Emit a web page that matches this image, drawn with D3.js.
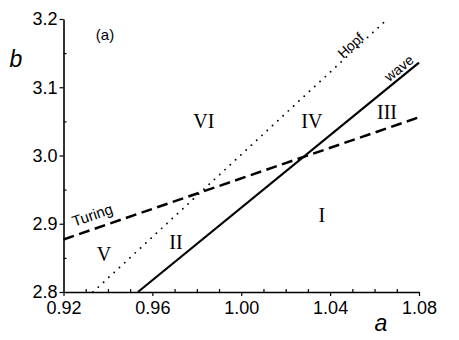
<!DOCTYPE html>
<html><head><meta charset="utf-8">
<script src="https://cdn.jsdelivr.net/npm/d3@7"></script>
<style>body{margin:0;background:#fff}svg{display:block}</style>
</head><body>
<svg id="c" width="459" height="340"></svg>
<script>
const xTicks = [0.92, 0.96, 1.00, 1.04, 1.08];
const yTicks = [2.8, 2.9, 3.0, 3.1, 3.2];
const xMinor = [0.93,0.94,0.95,0.97,0.98,0.99,1.01,1.02,1.03,1.05,1.06,1.07];
const yMinor = [2.85, 2.95, 3.05, 3.15];
const hopfA = [0.9333, 1.0658], hopfB = [2.8, 3.2];
const waveA = [0.9535, 1.08],   waveB = [2.8, 3.136];
const turingA = [0.92, 1.08],   turingB = [2.877, 3.056];
const regions = ["VI","IV","III","II","V","I"];
const regionA = [0.9832, 1.0318, 1.0656, 0.9706, 0.9382, 1.0363];
const regionB = [3.040, 3.040, 3.053, 2.863, 2.845, 2.902];

const svg = d3.select("#c");
const x = d3.scaleLinear().domain([0.92,1.08]).range([63.5,419]);
const y = d3.scaleLinear().domain([2.8,3.2]).range([292,19]);
const font = "Arial, 'Liberation Sans', sans-serif";

// minor ticks
svg.append("g").attr("transform","translate(0,292)")
  .call(d3.axisBottom(x).tickValues(xMinor).tickSize(-3).tickFormat(""))
  .call(g=>g.select(".domain").remove());
svg.append("g").attr("transform","translate(63.5,0)")
  .call(d3.axisLeft(y).tickValues(yMinor).tickSize(-3).tickFormat(""))
  .call(g=>g.select(".domain").remove());

const xa = svg.append("g").attr("transform","translate(0,292)")
  .call(d3.axisBottom(x).tickValues(xTicks).tickSizeInner(4).tickSizeOuter(0).tickPadding(5).tickFormat(d3.format(".2f")));
const ya = svg.append("g").attr("transform","translate(63.5,0)")
  .call(d3.axisLeft(y).tickValues(yTicks).tickSizeInner(4).tickSizeOuter(0).tickPadding(2).tickFormat(d3.format(".1f")));
[xa,ya].forEach(g=>{
  g.selectAll("text").attr("font-family",font).attr("font-size",18).attr("fill","#000");
  g.select(".domain").attr("stroke","#000").attr("stroke-width",1.6);
});
svg.selectAll("g line").attr("stroke","#000").attr("stroke-width",1.2);

const line = d3.line().x(d=>x(d[0])).y(d=>y(d[1]));
svg.append("path").attr("d",line(d3.zip(hopfA,hopfB))).attr("fill","none")
  .attr("stroke","#000").attr("stroke-width",1.9).attr("stroke-linecap","round").attr("stroke-dasharray","0 7.2");
svg.append("path").attr("d",line(d3.zip(waveA,waveB))).attr("fill","none")
  .attr("stroke","#000").attr("stroke-width",2.2);
svg.append("path").attr("d",line(d3.zip(turingA,turingB))).attr("fill","none")
  .attr("stroke","#000").attr("stroke-width",2.5).attr("stroke-dasharray","11 5.5");

function ang(A,B){return Math.atan2(y(B[1])-y(B[0]), x(A[1])-x(A[0]))*180/Math.PI;}
function lab(t,px,py,a,fs){
  svg.append("text").attr("transform",`translate(${px},${py}) rotate(${a})`)
    .attr("text-anchor","middle").attr("font-family",font).attr("font-size",fs).text(t);
}
lab("Hopf", 354, 49, ang(hopfA,hopfB), 14);
lab("wave", 402, 72, ang(waveA,waveB), 14);
lab("Turing", 94, 220, ang(turingA,turingB), 15);

svg.selectAll("text.reg").data(regions).join("text").attr("class","reg")
  .attr("x",(d,i)=>x(regionA[i])).attr("y",(d,i)=>y(regionB[i]))
  .attr("text-anchor","middle").attr("font-family","'Liberation Serif','Times New Roman',serif")
  .attr("font-size",20).text(d=>d);

svg.append("text").attr("x",105).attr("y",40).attr("text-anchor","middle")
  .attr("font-family",font).attr("font-size",15).text("(a)");
svg.append("text").attr("x",16).attr("y",67).attr("text-anchor","middle")
  .attr("font-family",font).attr("font-size",23).attr("font-style","italic").text("b");
svg.append("text").attr("x",381).attr("y",331).attr("text-anchor","middle")
  .attr("font-family",font).attr("font-size",23).attr("font-style","italic").text("a");
</script>
</body></html>
